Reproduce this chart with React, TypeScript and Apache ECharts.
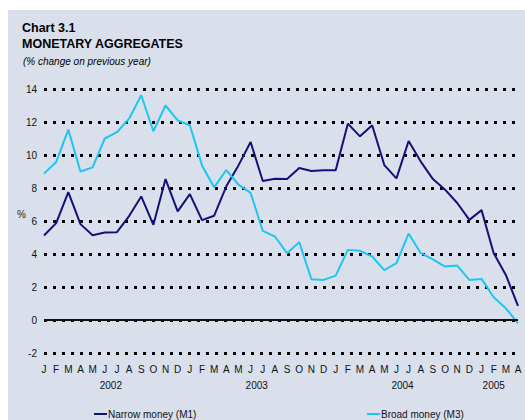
import React, { useEffect, useRef } from 'react';
import * as echarts from 'echarts';

const monthLetters = ['J', 'F', 'M', 'A', 'M', 'J', 'J', 'A', 'S', 'O', 'N', 'D'];
const yearsCovered = [2002, 2003, 2004, 2005];
const monthsInLastYear = 4;

const narrowM1 = [
  5.12, 5.87, 7.75, 5.81, 5.14, 5.3, 5.32, 6.3, 7.49, 5.77, 8.54, 6.58,
  7.63, 6.05, 6.32, 8.1, 9.37, 10.79, 8.42, 8.56, 8.54, 9.21, 9.03, 9.07,
  9.07, 11.9, 11.13, 11.8, 9.39, 8.58, 10.85, 9.6, 8.54, 7.9, 7.09, 6.07,
  6.66, 4.05, 2.73, 0.85,
];
const broadM3 = [
  8.87, 9.57, 11.54, 9.0, 9.25, 11.0, 11.38, 12.2, 13.62, 11.44, 13.0, 12.1,
  11.8, 9.37, 8.04, 9.09, 8.2, 7.7, 5.4, 5.06, 4.05, 4.72, 2.47, 2.43,
  2.69, 4.25, 4.19, 3.85, 3.02, 3.44, 5.24, 4.05, 3.68, 3.24, 3.3, 2.43,
  2.49, 1.38, 0.71, -0.2,
];
// year label centres, in month index units (0 = Jan 2002)
const yearLabelCentres = [5.5, 17.5, 29.5, 37];
const yearLabels = ['2002', '2003', '2004', '2005'];

const yTicks = { min: -2, max: 14, interval: 2 };

const categories: string[] = [];
yearsCovered.forEach((y, yi) => {
  const n = yi === yearsCovered.length - 1 ? monthsInLastYear : 12;
  for (let m = 0; m < n; m++) categories.push(`${y}-${m + 1}`);
});
const halfCats: string[] = [];
for (let i = 0; i < categories.length * 2 - 1; i++) halfCats.push(String(i));
const yearAt: Record<number, string> = {};
yearLabelCentres.forEach((c, i) => { yearAt[Math.round(c * 2)] = yearLabels[i]; });

const NAVY = '#111177';
const CYAN = '#1cc6f2';
const FONT = '"Liberation Sans", Arial, Helvetica, sans-serif';

export default function App() {
  const ref = useRef<HTMLDivElement>(null);
  useEffect(() => {
    if (!ref.current) return;
    const chart = echarts.init(ref.current, undefined, { renderer: 'svg' });
    chart.setOption({
      animation: false,
      backgroundColor: '#ffffff',
      textStyle: { fontFamily: FONT },
      graphic: [
        { type: 'rect', z: -10, shape: { x: 8, y: 10, width: 517, height: 410 }, style: { fill: '#d9e0ec' } },
        { type: 'text', left: 22, top: 21, style: { text: 'Chart 3.1', font: `bold 12.5px ${FONT}`, fill: '#000' } },
        { type: 'text', left: 22, top: 37, style: { text: 'MONETARY AGGREGATES', font: `bold 12.5px ${FONT}`, fill: '#000' } },
        { type: 'text', left: 23, top: 56, style: { text: '(% change on previous year)', font: `italic 10px ${FONT}`, fill: '#000' } },
        { type: 'text', left: 17, top: 209, style: { text: '%', font: `10px ${FONT}`, fill: '#222' } },
      ],
      grid: { left: 44, right: 7, top: 89, bottom: 67 },
      legend: [
        {
          left: 89, top: 404, itemWidth: 13, itemHeight: 2, itemGap: 4,
          icon: 'rect', data: ['Narrow money (M1)'],
          textStyle: { fontSize: 10, color: '#111', fontFamily: FONT, padding: [0, 0, 0, -4] },
        },
        {
          left: 362, top: 404, itemWidth: 13, itemHeight: 2, itemGap: 4,
          icon: 'rect', data: ['Broad money (M3)'],
          textStyle: { fontSize: 10, color: '#111', fontFamily: FONT, padding: [0, 0, 0, -4] },
        },
      ],
      xAxis: [
        {
          type: 'category', data: categories, boundaryGap: false,
          axisLine: { show: false }, axisTick: { show: false },
          axisLabel: {
            interval: 0, margin: 11, fontSize: 10, color: '#111', fontFamily: FONT,
            formatter: (v: string) => monthLetters[Number(v.split('-')[1]) - 1],
          },
          splitLine: { show: false },
        },
        {
          type: 'category', data: halfCats, boundaryGap: false, position: 'bottom', offset: 16,
          axisLine: { show: false }, axisTick: { show: false },
          axisLabel: {
            interval: 0, margin: 11, fontSize: 10, color: '#111', fontFamily: FONT,
            formatter: (v: string) => yearAt[Number(v)] || '',
          },
          splitLine: { show: false },
        },
      ],
      yAxis: {
        type: 'value', min: yTicks.min, max: yTicks.max, interval: yTicks.interval,
        axisLine: { show: false }, axisTick: { show: false },
        axisLabel: { fontSize: 10, color: '#111', margin: 7, fontFamily: FONT },
        splitLine: { lineStyle: { color: '#000', width: 3, type: [3, 6] } },
      },
      series: [
        {
          name: 'Narrow money (M1)', type: 'line', data: narrowM1, symbol: 'none',
          lineStyle: { color: NAVY, width: 2 }, itemStyle: { color: NAVY }, z: 3,
          markLine: {
            silent: true, symbol: 'none', label: { show: false },
            lineStyle: { color: '#111', width: 2, type: 'solid' },
            data: [{ yAxis: 0 }],
          },
        },
        {
          name: 'Broad money (M3)', type: 'line', data: broadM3, symbol: 'none',
          lineStyle: { color: CYAN, width: 2 }, itemStyle: { color: CYAN }, z: 4,
        },
      ],
    });
    return () => chart.dispose();
  }, []);
  return (
    <div
      ref={ref}
      style={{ position: 'fixed', left: 0, top: 0, width: 525, height: 420 }}
    />
  );
}
